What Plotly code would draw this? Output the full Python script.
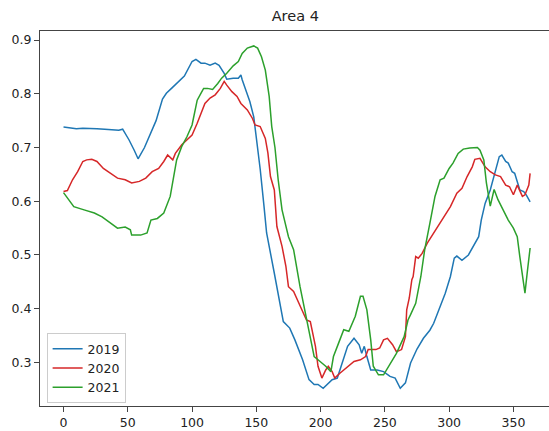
import plotly.graph_objects as go

days_2019 = [0, 5, 10, 15, 21, 26, 32, 38, 43, 46, 51, 55, 58, 63, 68, 72, 77, 80, 84, 88, 94, 100, 103, 107, 110,
             114, 118, 121, 125, 127, 132, 136, 138, 139, 143, 145, 148, 150, 153, 156, 158, 164, 169, 171, 176, 180,
             186, 191, 195, 198, 202, 205, 209, 213, 217, 221, 226, 230, 232, 234, 236, 239, 244, 249, 254, 258, 262,
             266, 270, 275, 280, 285, 288, 292, 297, 301, 304, 306, 310, 315, 319, 323, 325, 328, 332, 336, 339, 341,
             344, 346, 349, 351, 353, 355, 358, 360, 363]
vals_2019 = [0.738, 0.736, 0.735, 0.736, 0.736, 0.735, 0.734, 0.733, 0.732, 0.734, 0.714, 0.695, 0.679, 0.700, 0.727,
             0.750, 0.790, 0.801, 0.810, 0.820, 0.833, 0.860, 0.864, 0.857, 0.857, 0.853, 0.857, 0.853, 0.838, 0.827,
             0.829, 0.829, 0.835, 0.826, 0.801, 0.785, 0.757, 0.720, 0.660, 0.590, 0.541, 0.466, 0.404, 0.376, 0.364,
             0.342, 0.305, 0.268, 0.259, 0.259, 0.252, 0.259, 0.268, 0.271, 0.299, 0.330, 0.345, 0.333, 0.317, 0.330,
             0.311, 0.286, 0.286, 0.283, 0.274, 0.271, 0.252, 0.262, 0.299, 0.325, 0.345, 0.360, 0.373, 0.398, 0.429,
             0.460, 0.494, 0.498, 0.490, 0.500, 0.516, 0.534, 0.565, 0.596, 0.621, 0.658, 0.683, 0.686, 0.674, 0.671,
             0.655, 0.652, 0.634, 0.621, 0.618, 0.612, 0.599]

days_2020 = [0, 3, 7, 11, 15, 18, 22, 26, 31, 37, 42, 48, 53, 59, 64, 69, 74, 78, 81, 85, 87, 92, 96, 100, 104, 107,
             110, 114, 118, 122, 125, 127, 131, 135, 138, 143, 147, 149, 153, 157, 159, 161, 164, 166, 170, 173, 175,
             179, 184, 189, 192, 196, 198, 201, 204, 206, 209, 211, 215, 221, 226, 231, 235, 237, 243, 246, 249, 252,
             256, 259, 263, 266, 267, 269, 271, 272, 274, 276, 279, 283, 288, 292, 297, 301, 306, 310, 314, 318, 320,
             324, 328, 332, 336, 340, 344, 347, 350, 353, 357, 359, 362, 363]
vals_2020 = [0.618, 0.620, 0.640, 0.655, 0.674, 0.677, 0.678, 0.674, 0.661, 0.652, 0.643, 0.640, 0.634, 0.637, 0.643,
             0.655, 0.661, 0.674, 0.686, 0.677, 0.689, 0.705, 0.714, 0.723, 0.745, 0.765, 0.782, 0.792, 0.798, 0.810,
             0.823, 0.816, 0.804, 0.795, 0.782, 0.770, 0.754, 0.742, 0.739, 0.717, 0.690, 0.646, 0.621, 0.553, 0.516,
             0.479, 0.441, 0.432, 0.404, 0.379, 0.376, 0.330, 0.293, 0.271, 0.286, 0.293, 0.283, 0.271, 0.280, 0.293,
             0.302, 0.305, 0.311, 0.324, 0.324, 0.327, 0.342, 0.345, 0.333, 0.320, 0.324, 0.348, 0.398, 0.420, 0.454,
             0.460, 0.497, 0.494, 0.503, 0.522, 0.541, 0.556, 0.575, 0.590, 0.615, 0.624, 0.646, 0.664, 0.678, 0.680,
             0.664, 0.655, 0.649, 0.646, 0.630, 0.627, 0.612, 0.630, 0.609, 0.612, 0.630, 0.652]

days_2021 = [0, 3, 8, 16, 24, 30, 37, 42, 48, 52, 53, 60, 65, 68, 73, 78, 83, 86, 88, 92, 96, 100, 104, 107, 109, 112,
             116, 120, 123, 127, 132, 136, 139, 143, 148, 151, 154, 157, 160, 162, 164.5, 167, 170, 175, 179, 184, 189,
             192, 195, 198, 204, 208, 210, 214, 218, 222, 227, 231, 233, 236, 239, 241, 245, 249, 254, 259, 265, 268,
             270, 274, 278, 281, 285, 289, 293, 296, 300, 303, 307, 311, 316, 322, 324, 327, 329, 331, 332, 335, 338,
             342, 346, 350, 353, 355, 357, 359, 361, 363]
vals_2021 = [0.616, 0.606, 0.590, 0.584, 0.578, 0.571, 0.559, 0.550, 0.552, 0.547, 0.537, 0.537, 0.541, 0.565, 0.568,
             0.578, 0.609, 0.646, 0.677, 0.702, 0.720, 0.742, 0.788, 0.801, 0.810, 0.810, 0.808, 0.819, 0.829, 0.838,
             0.852, 0.860, 0.875, 0.885, 0.889, 0.885, 0.869, 0.844, 0.795, 0.739, 0.700, 0.640, 0.584, 0.534, 0.510,
             0.441, 0.379, 0.342, 0.311, 0.305, 0.293, 0.283, 0.311, 0.336, 0.361, 0.358, 0.386, 0.423, 0.423, 0.398,
             0.342, 0.293, 0.277, 0.277, 0.296, 0.317, 0.348, 0.379, 0.389, 0.410, 0.460, 0.510, 0.559, 0.609, 0.640,
             0.643, 0.661, 0.671, 0.689, 0.697, 0.699, 0.700, 0.695, 0.677, 0.634, 0.609, 0.591, 0.622, 0.603, 0.584,
             0.565, 0.550, 0.534, 0.497, 0.460, 0.429, 0.472, 0.513]

series_names = ["2019", "2020", "2021"]
series_colors = ["#1f77b4", "#d62728", "#2ca02c"]
x_ticks = [0, 50, 100, 150, 200, 250, 300, 350]
y_ticks = [0.3, 0.4, 0.5, 0.6, 0.7, 0.8, 0.9]

fig = go.Figure()
for name, xs, ys, col in zip(series_names, [days_2019, days_2020, days_2021],
                             [vals_2019, vals_2020, vals_2021], series_colors):
    fig.add_trace(go.Scatter(x=xs, y=ys, mode="lines", name=name,
                             line=dict(color=col, width=1.5)))

axis_col = "#444444"
fig.update_layout(
    width=549, height=431,
    margin=dict(l=39.5, r=0, t=31, b=25),
    paper_bgcolor="white", plot_bgcolor="white",
    font=dict(family="DejaVu Sans", size=12.5, color="#222222"),
    title=dict(text="Area 4", x=0.5015, xref="paper", xanchor="center",
               y=0.963, yref="container", yanchor="middle",
               font=dict(family="DejaVu Sans", size=14.5, color="#222222")),
    showlegend=True,
    legend=dict(x=0.013, y=0.008, xanchor="left", yanchor="bottom",
                bgcolor="rgba(255,255,255,0.85)", bordercolor="#cccccc", borderwidth=1,
                font=dict(family="DejaVu Sans", size=12.5, color="#222222")),
    xaxis=dict(range=[-18.3, 377.7], tickvals=x_ticks, showgrid=False, zeroline=False,
               showline=True, linecolor=axis_col, linewidth=1, mirror=True, automargin=False,
               ticks="outside", ticklen=5, tickcolor=axis_col, tickwidth=1, ticklabelstandoff=0),
    yaxis=dict(range=[0.219, 0.9168], tickvals=y_ticks, tickformat=".1f", showgrid=False,
               zeroline=False, showline=True, linecolor=axis_col, linewidth=1, automargin=False,
               ticks="outside", ticklen=5, tickcolor=axis_col, tickwidth=1),
)

fig.write_html("out.html", config={"displayModeBar": False},
               post_script="document.body.style.margin='0px';document.body.style.overflow='hidden';")
